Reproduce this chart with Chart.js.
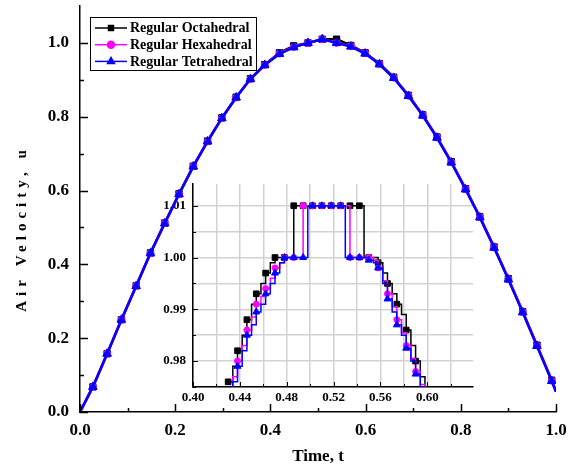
<!DOCTYPE html>
<html>
<head>
<meta charset="utf-8">
<script src="https://cdn.jsdelivr.net/npm/chart.js@4.4.1/dist/chart.umd.min.js"></script>
<style>
  html, body { margin: 0; padding: 0; background: #fff; }
  #wrap { position: relative; width: 576px; height: 472px; }
  #wrap canvas { position: absolute; }
  #inset { left: 148px; top: 176px; z-index: 0; }
  #main { left: 0; top: 0; z-index: 1; }
</style>
</head>
<body>
<div id="wrap">
  <canvas id="inset" width="330" height="236"></canvas>
  <canvas id="main" width="576" height="472"></canvas>
</div>
<script>
// --- main plot data (time t, air velocity u) ---
const seriesNames = ['Regular Octahedral', 'Regular Hexahedral', 'Regular Tetrahedral'];
const tMain = [0, 0.027, 0.057, 0.087, 0.118, 0.148, 0.178, 0.208, 0.238, 0.268, 0.298, 0.328,
  0.358, 0.388, 0.419, 0.449, 0.479, 0.509, 0.539, 0.569, 0.599, 0.629, 0.659, 0.690, 0.720,
  0.750, 0.780, 0.810, 0.840, 0.870, 0.900, 0.930, 0.960, 0.991, 1.000];
const uOctaMain = [0, 0.068, 0.158, 0.250, 0.342, 0.431, 0.512, 0.591, 0.666, 0.734, 0.797, 0.853,
  0.903, 0.941, 0.973, 0.992, 1.000, 1.010, 1.010, 0.993, 0.973, 0.944, 0.907, 0.858, 0.805,
  0.745, 0.678, 0.605, 0.529, 0.447, 0.361, 0.272, 0.181, 0.086, 0.056];
const uHexaMain = [0, 0.068, 0.158, 0.250, 0.342, 0.430, 0.512, 0.590, 0.666, 0.733, 0.796, 0.852,
  0.902, 0.940, 0.971, 0.989, 1.000, 1.010, 1.000, 0.991, 0.972, 0.943, 0.906, 0.857, 0.804,
  0.744, 0.677, 0.604, 0.528, 0.446, 0.360, 0.271, 0.180, 0.085, 0.055];
const uTetraMain = [0, 0.068, 0.158, 0.250, 0.341, 0.430, 0.511, 0.590, 0.665, 0.733, 0.796, 0.852,
  0.902, 0.940, 0.970, 0.988, 1.000, 1.010, 1.000, 0.990, 0.971, 0.942, 0.905, 0.856, 0.803,
  0.743, 0.676, 0.603, 0.527, 0.445, 0.359, 0.270, 0.179, 0.084, 0.055];

// --- inset (zoom on the peak) ---
const tInset = [0.430, 0.434, 0.438, 0.442, 0.446, 0.450, 0.454, 0.458, 0.462, 0.466, 0.470,
  0.474, 0.478, 0.482, 0.486, 0.490, 0.494, 0.498, 0.502, 0.506, 0.510, 0.514, 0.518, 0.522,
  0.526, 0.530, 0.534, 0.538, 0.542, 0.546, 0.550, 0.554, 0.558, 0.562, 0.566, 0.570, 0.574,
  0.578, 0.582, 0.586, 0.590, 0.594, 0.598, 0.602];
const uOctaInset = [0.976, 0.979, 0.982, 0.985, 0.988, 0.991, 0.993, 0.995, 0.997, 0.999, 1.000,
  1.000, 1.000, 1.000, 1.010, 1.010, 1.010, 1.010, 1.010, 1.010, 1.010, 1.010, 1.010, 1.010,
  1.010, 1.010, 1.010, 1.010, 1.010, 1.000, 1.000, 1.000, 0.999, 0.997, 0.995, 0.993, 0.991,
  0.989, 0.986, 0.983, 0.980, 0.977, 0.974, 0.971];
const uHexaInset = [0.9735, 0.977, 0.980, 0.983, 0.986, 0.9885, 0.991, 0.9925, 0.994, 0.996, 0.998,
  0.999, 1.000, 1.000, 1.000, 1.000, 1.010, 1.010, 1.010, 1.010, 1.010, 1.010, 1.010, 1.010,
  1.010, 1.010, 1.000, 1.000, 1.000, 1.000, 1.000, 0.9995, 0.998, 0.9955, 0.993, 0.9905, 0.988,
  0.9855, 0.983, 0.9805, 0.978, 0.9755, 0.973, 0.9705];
const uTetraInset = [0.973, 0.976, 0.979, 0.982, 0.985, 0.987, 0.9895, 0.991, 0.993, 0.995, 0.997,
  0.999, 1.000, 1.000, 1.000, 1.000, 1.000, 1.010, 1.010, 1.010, 1.010, 1.010, 1.010, 1.010,
  1.010, 1.000, 1.000, 1.000, 1.000, 1.000, 0.9995, 0.999, 0.998, 0.995, 0.992, 0.9895, 0.987,
  0.985, 0.9825, 0.980, 0.9775, 0.975, 0.9725, 0.970];

// --- axis ticks ---
const xTicksMain = [0, 0.2, 0.4, 0.6, 0.8, 1.0];
const xMinorMain = [0.1, 0.3, 0.5, 0.7, 0.9];
const yTicksMain = [0, 0.2, 0.4, 0.6, 0.8, 1.0];
const yMinorMain = [0.1, 0.3, 0.5, 0.7, 0.9];
const xTicksInset = [0.40, 0.42, 0.44, 0.46, 0.48, 0.50, 0.52, 0.54, 0.56, 0.58, 0.60, 0.62];
const yTicksInset = [0.975, 0.980, 0.985, 0.990, 0.995, 1.000, 1.005, 1.010];

const colors = ['#000000', '#ff00ff', '#0000ff'];
const styles = ['rect', 'circle', 'triangle'];
const FONT = "'Times New Roman', 'Liberation Serif', serif";

Chart.defaults.font.family = FONT;
Chart.defaults.color = '#000';

const pairs = (xs, ys) => xs.map((x, i) => ({ x: x, y: ys[i] }));

// no automatic room for edge labels, the layout is fixed by hand
const noPad = s => { s.paddingTop = 0; s.paddingBottom = 0; s.paddingLeft = 0; s.paddingRight = 0; };

// tick marks pointing into the plot
const innerTicks = {
  id: 'innerTicks',
  afterDraw(chart, args, o) {
    const { ctx, chartArea: a } = chart;
    const xs = chart.scales.x, ys = chart.scales.y;
    ctx.save();
    ctx.strokeStyle = '#000';
    ctx.lineWidth = o.width;
    ctx.beginPath();
    const vx = (vals, len) => vals.forEach(v => {
      const p = Math.round(xs.getPixelForValue(v)) + 0.5;
      ctx.moveTo(p, a.bottom); ctx.lineTo(p, a.bottom - len);
    });
    const vy = (vals, len) => vals.forEach(v => {
      const p = Math.round(ys.getPixelForValue(v)) + 0.5;
      ctx.moveTo(a.left, p); ctx.lineTo(a.left + len, p);
    });
    vx(o.xMajor, o.major); vx(o.xMinor, o.minor);
    vy(o.yMajor, o.major); vy(o.yMinor, o.minor);
    ctx.stroke();
    ctx.restore();
  }
};

// boxed legend + rotated y title for the main plot
const mainDecor = {
  id: 'mainDecor',
  afterDraw(chart) {
    const ctx = chart.ctx;
    ctx.save();
    ctx.fillStyle = '#fff';
    ctx.fillRect(90, 17, 167, 53);
    ctx.strokeStyle = '#000';
    ctx.lineWidth = 1;
    ctx.strokeRect(90.5, 17.5, 166, 53);
    seriesNames.forEach((name, i) => {
      const yy = 28 + i * 16.7;
      ctx.strokeStyle = colors[i];
      ctx.fillStyle = colors[i];
      ctx.lineWidth = 1.5;
      ctx.beginPath(); ctx.moveTo(95, yy); ctx.lineTo(127, yy); ctx.stroke();
      Chart.helpers.drawPoint(ctx, { pointStyle: styles[i], rotation: 0, radius: i === 2 ? 4 : 3.5, borderWidth: 1 }, 111, yy);
      ctx.fillStyle = '#000';
      ctx.font = 'bold 14px ' + FONT;
      ctx.textBaseline = 'middle';
      ctx.textAlign = 'left';
      ctx.fillText(name, 130, yy + 0.5);
    });
    ctx.translate(22, 231);
    ctx.rotate(-Math.PI / 2);
    ctx.font = 'bold 15px ' + FONT;
    ctx.letterSpacing = '5px';
    ctx.textAlign = 'center';
    ctx.textBaseline = 'middle';
    ctx.fillStyle = '#000';
    ctx.fillText('Air Velocity, u', 2.5, 0);
    ctx.restore();
  }
};

const whiteArea = {
  id: 'whiteArea',
  beforeDraw(chart) {
    const { ctx, chartArea: a } = chart;
    ctx.save(); ctx.fillStyle = '#fff';
    ctx.fillRect(a.left, a.top, a.right - a.left, a.bottom - a.top);
    ctx.restore();
  }
};

const mainSets = [uOctaMain, uHexaMain, uTetraMain];
const mainRadius = [4.5, 3.5, 5];
new Chart(document.getElementById('main'), {
  type: 'line',
  data: {
    datasets: mainSets.map((ys, i) => ({
      label: seriesNames[i],
      data: pairs(tMain, ys),
      borderColor: colors[i],
      backgroundColor: colors[i],
      borderWidth: 2.5,
      pointStyle: styles[i],
      pointRadius: c => (c.dataIndex === 0 || c.dataIndex === tMain.length - 1) ? 0 : mainRadius[i],
      pointBorderWidth: 1,
      order: 3 - i,
      tension: 0
    }))
  },
  options: {
    responsive: false,
    animation: false,
    devicePixelRatio: 1,
    layout: { padding: { top: 6, right: 20, left: 0, bottom: 0 } },
    plugins: {
      legend: { display: false },
      tooltip: { enabled: false },
      innerTicks: { width: 1.5, major: 8, minor: 4, xMajor: xTicksMain, xMinor: xMinorMain, yMajor: yTicksMain, yMinor: yMinorMain }
    },
    scales: {
      x: {
        type: 'linear', min: 0, max: 1,
        afterFit: s => { s.height = 60; noPad(s); },
        afterBuildTicks: s => { s.ticks = xTicksMain.map(v => ({ value: v })); },
        grid: { display: false, drawTicks: false },
        border: { display: true, color: '#000', width: 1.5 },
        ticks: { padding: 8, autoSkip: false, maxRotation: 0, color: '#000',
          font: { size: 17, weight: 'bold' }, callback: v => v.toFixed(1) },
        title: { display: true, text: 'Time, t', color: '#000',
          font: { size: 17, weight: 'bold' }, padding: { top: 0, bottom: 5 } }
      },
      y: {
        type: 'linear', min: 0, max: 1.1,
        afterFit: s => { s.width = 80; noPad(s); },
        afterBuildTicks: s => { s.ticks = yTicksMain.map(v => ({ value: v })); },
        grid: { display: false, drawTicks: false },
        border: { display: true, color: '#000', width: 1.5 },
        ticks: { padding: 11, autoSkip: false, color: '#000',
          font: { size: 17, weight: 'bold' }, callback: v => v.toFixed(1) }
      }
    }
  },
  plugins: [innerTicks, mainDecor]
});

const insetSets = [uOctaInset, uHexaInset, uTetraInset];
const insetRadius = [4, 3, 4];
new Chart(document.getElementById('inset'), {
  type: 'line',
  data: {
    datasets: insetSets.map((ys, i) => ({
      label: seriesNames[i],
      data: pairs(tInset, ys),
      borderColor: colors[i],
      backgroundColor: colors[i],
      borderWidth: 1.5,
      stepped: 'before',
      pointStyle: styles[i],
      pointRadius: c => c.dataIndex % 2 === 0 ? insetRadius[i] : 0,
      pointBorderWidth: 1,
      order: 3 - i,
      clip: 0
    }))
  },
  options: {
    responsive: false,
    animation: false,
    devicePixelRatio: 1,
    layout: { padding: { top: 8, right: 5, left: 0, bottom: 0 } },
    plugins: {
      legend: { display: false },
      tooltip: { enabled: false },
      innerTicks: { width: 1, major: 5, minor: 3,
        xMajor: xTicksInset.filter(v => Math.round(v * 100) % 4 === 0),
        xMinor: xTicksInset.filter(v => Math.round(v * 100) % 4 !== 0),
        yMajor: yTicksInset.filter(v => Math.round(v * 1000) % 10 === 0),
        yMinor: yTicksInset.filter(v => Math.round(v * 1000) % 10 !== 0) }
    },
    scales: {
      x: {
        type: 'linear', min: 0.40, max: 0.639,
        afterFit: s => { s.height = 25; noPad(s); },
        afterBuildTicks: s => { s.ticks = xTicksInset.map(v => ({ value: v })); },
        grid: { display: true, drawTicks: false, color: '#d2d2d2', lineWidth: 1.5 },
        border: { display: true, color: '#000', width: 1.5 },
        ticks: { padding: 3, autoSkip: false, maxRotation: 0, color: '#000',
          font: { size: 13, weight: 'bold' },
          callback: v => Math.round(v * 100) % 4 === 0 ? v.toFixed(2) : '' }
      },
      y: {
        type: 'linear', min: 0.975, max: 1.0142,
        afterFit: s => { s.width = 45; noPad(s); },
        afterBuildTicks: s => { s.ticks = yTicksInset.map(v => ({ value: v })); },
        grid: { display: true, drawTicks: false, color: '#d2d2d2', lineWidth: 1.5 },
        border: { display: true, color: '#000', width: 1.5 },
        ticks: { padding: 7, autoSkip: false, color: '#000',
          font: { size: 13, weight: 'bold' },
          callback: v => Math.round(v * 1000) % 10 === 0 ? v.toFixed(2) : '' }
      }
    }
  },
  plugins: [whiteArea, innerTicks]
});
</script>
</body>
</html>
